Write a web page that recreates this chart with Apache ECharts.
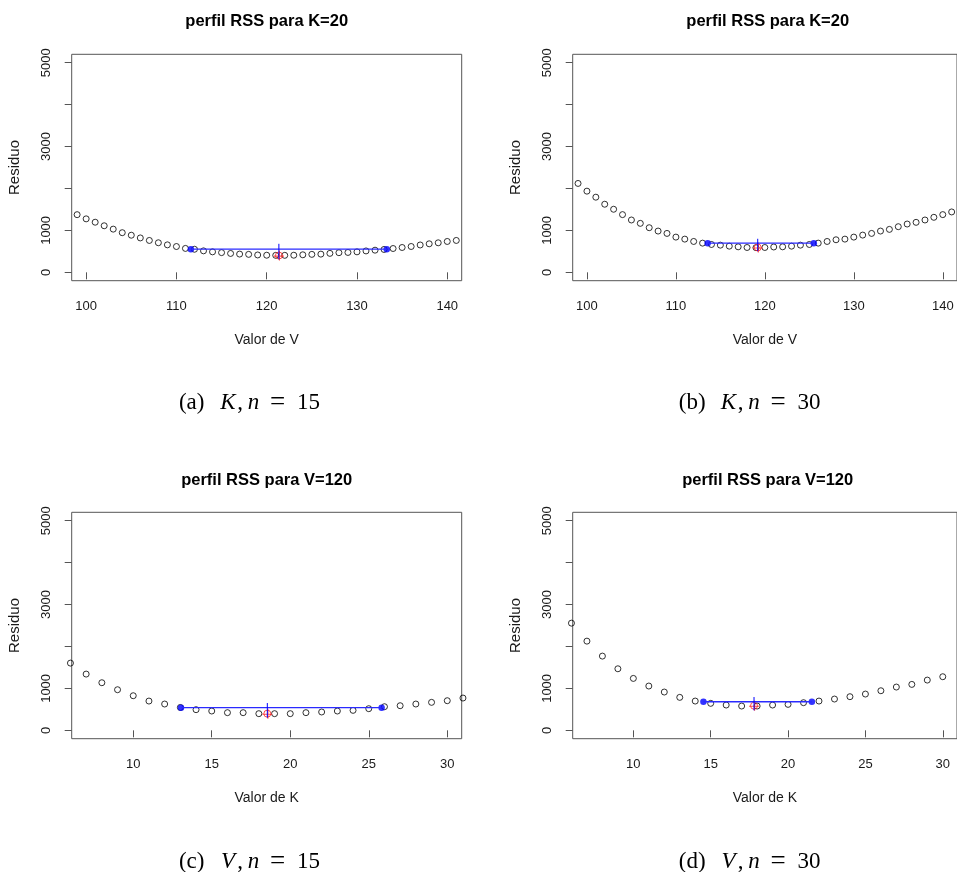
<!DOCTYPE html>
<html>
<head>
<meta charset="utf-8">
<script src="https://cdn.jsdelivr.net/npm/echarts@6/dist/echarts.min.js"></script>
<style>
html,body{margin:0;padding:0;background:#fff;}
#c{width:957px;height:872px;}
</style>
</head>
<body>
<div id="c"></div>
<script>
// ---- Data ----
const ticksV = [100, 110, 120, 130, 140];
const ticksK = [10, 15, 20, 25, 30];
const ticksY = [0, 1000, 2000, 3000, 4000, 5000];
const labelsY = [0, 1000, 3000, 5000];

const titles = ['perfil RSS para K=20', 'perfil RSS para K=20', 'perfil RSS para V=120', 'perfil RSS para V=120'];
const xNames = ['Valor de V', 'Valor de V', 'Valor de K', 'Valor de K'];
const yName = 'Residuo';
const captionLetters = ['(a)', '(b)', '(c)', '(d)'];
const captionVars = ['K', 'K', 'V', 'V'];
const captionN = ['15', '30', '15', '30'];

// (a) K, n = 15
const aX = [99,100,101,102,103,104,105,106,107,108,109,110,111,112,113,114,115,116,117,118,119,120,121,122,123,124,125,126,127,128,129,130,131,132,133,134,135,136,137,138,139,140,141];
const aRSS = [1375,1275,1195,1110,1030,945,885,820,760,705,655,615,570,550,512,488,470,450,435,428,414,408,405,405,408,418,428,434,452,468,474,488,510,528,545,568,592,616,652,680,704,736,760];
const aCI = [111.6, 133.3];
const aCIy = 552;
const aEst = [121.35, 400];
const aMark = [680, 310];

// (b) K, n = 30
const bX = [99,100,101,102,103,104,105,106,107,108,109,110,111,112,113,114,115,116,117,118,119,120,121,122,123,124,125,126,127,128,129,130,131,132,133,134,135,136,137,138,139,140,141];
const bRSS = [2120,1936,1792,1624,1504,1376,1248,1168,1064,984,928,840,792,736,696,664,648,624,608,592,588,592,604,608,624,648,664,696,736,776,792,840,888,928,984,1024,1088,1152,1192,1248,1312,1376,1440];
const bCI = [113.57, 125.5];
const bCIy = 696;
const bEst = [119.2, 592];
const bMark = [800, 504];

// (c) V, n = 15
const cX = [6,7,8,9,10,11,12,13,14,15,16,17,18,19,20,21,22,23,24,25,26,27,28,29,30,31];
const cRSS = [1603,1341,1135,968,825,698,627,545,492,460,421,421,397,397,397,421,437,460,476,516,563,587,627,667,706,770];
const cCI = [13.04, 25.82];
const cCIy = 540;
const cEst = [18.54, 397];
const cMark = [651, 302];

// (d) V, n = 30
const dX = [6,7,8,9,10,11,12,13,14,15,16,17,18,19,20,21,22,23,24,25,26,27,28,29,30];
const dRSS = [2556,2127,1770,1468,1238,1056,913,786,698,643,603,579,579,603,619,659,698,746,802,865,944,1032,1095,1198,1278];
const dCI = [14.53, 21.54];
const dCIy = 683;
const dEst = [17.8, 587];
const dMark = [794, 476];

// ---- Layout ----
const colLeft = [71.7, 572.7];
const rowTop = [54.3, 512.3];
const plotW = 390, plotH = 226.4;
const xRangeV = [98.4, 141.6];
const xRangeK = [6.08, 30.92];
const yRange = [-200, 5200];

const panels = [
  {x: aX, y: aRSS, ci: aCI, ciy: aCIy, est: aEst, mark: aMark, ticks: ticksV, range: xRangeV},
  {x: bX, y: bRSS, ci: bCI, ciy: bCIy, est: bEst, mark: bMark, ticks: ticksV, range: xRangeV},
  {x: cX, y: cRSS, ci: cCI, ciy: cCIy, est: cEst, mark: cMark, ticks: ticksK, range: xRangeK},
  {x: dX, y: dRSS, ci: dCI, ciy: dCIy, est: dEst, mark: dMark, ticks: ticksK, range: xRangeK}
];

const SANS = '"Liberation Sans", Arial, sans-serif';
const SERIF = '"Liberation Serif", "DejaVu Serif", serif';
const TXT = '#1a1a1a';
const AX = '#555';

const grids = [], xAxes = [], yAxes = [], series = [], graphics = [];
const captionBase = [191.7, 692.2];      // centre of "(x)" token
const captionOffsets = [0, 36.3, 48.3, 61.8, 85.8, 116.8];
const captionY = [403.3, 862.3];
const titleY = [21.7, 480];

panels.forEach((p, i) => {
  const col = i % 2, row = Math.floor(i / 2);
  grids.push({
    left: colLeft[col], top: rowTop[row], width: plotW, height: plotH,
    show: true, borderColor: AX, borderWidth: 1, backgroundColor: 'transparent', containLabel: false
  });
  xAxes.push({
    type: 'value', gridIndex: i, min: p.range[0], max: p.range[1],
    splitLine: {show: false},
    axisLine: {show: false},
    axisTick: {show: true, length: 7, customValues: p.ticks, lineStyle: {color: AX, width: 1}},
    axisLabel: {show: true, customValues: p.ticks, margin: 19, fontSize: 13, color: TXT, fontFamily: SANS,
      formatter: v => String(v)},
    name: xNames[i], nameLocation: 'middle', nameGap: 52,
    nameTextStyle: {fontSize: 14, color: TXT, fontFamily: SANS}
  });
  yAxes.push({
    type: 'value', gridIndex: i, min: yRange[0], max: yRange[1],
    splitLine: {show: false},
    axisLine: {show: false},
    axisTick: {show: true, length: 7, customValues: ticksY, lineStyle: {color: AX, width: 1}},
    axisLabel: {show: true, customValues: labelsY, rotate: 90, margin: 19, fontSize: 13, color: TXT, fontFamily: SANS,
      formatter: v => String(v)},
    name: yName, nameLocation: 'middle', nameGap: 49,
    nameTextStyle: {fontSize: 15, color: TXT, fontFamily: SANS}
  });
  // profile points (open circles)
  series.push({
    type: 'scatter', xAxisIndex: i, yAxisIndex: i, clip: false, silent: true,
    symbol: 'circle', symbolSize: 6,
    itemStyle: {color: 'rgba(0,0,0,0)', borderColor: '#000', borderWidth: 1},
    data: p.x.map((v, j) => [v, p.y[j]])
  });
  // interval line
  series.push({
    type: 'line', xAxisIndex: i, yAxisIndex: i, symbol: 'none', silent: true,
    lineStyle: {color: '#2a2aff', width: 1.4},
    data: [[p.ci[0], p.ciy], [p.ci[1], p.ciy]]
  });
  // interval endpoints
  series.push({
    type: 'scatter', xAxisIndex: i, yAxisIndex: i, silent: true,
    symbol: 'circle', symbolSize: 6.5,
    itemStyle: {color: '#0000ff'},
    data: [[p.ci[0], p.ciy], [p.ci[1], p.ciy]]
  });
  // vertical mark at estimate
  series.push({
    type: 'line', xAxisIndex: i, yAxisIndex: i, symbol: 'none', silent: true,
    lineStyle: {color: '#0000ff', width: 1},
    data: [[p.est[0], p.mark[0]], [p.est[0], p.mark[1]]]
  });
  // estimate: red circle with plus
  series.push({
    type: 'scatter', xAxisIndex: i, yAxisIndex: i, silent: true,
    symbol: 'circle', symbolSize: 7,
    itemStyle: {color: 'rgba(0,0,0,0)', borderColor: '#ff2020', borderWidth: 1},
    data: [[p.est[0], p.est[1]]]
  });
  series.push({
    type: 'scatter', xAxisIndex: i, yAxisIndex: i, silent: true,
    symbol: 'path://M0,4.5L9,4.5L9,5.5L0,5.5Z M4.5,0L5.5,0L5.5,9L4.5,9Z', symbolSize: 10,
    itemStyle: {color: '#ff2020'},
    data: [[p.est[0], p.est[1]]]
  });
  // title
  graphics.push({
    type: 'text', x: colLeft[col] + plotW / 2, y: titleY[row], silent: true,
    style: {text: titles[i], font: 'bold 16.5px ' + SANS, fill: '#000', align: 'center', verticalAlign: 'middle'}
  });
  // caption tokens: "(x)"  V , n = NN
  const tokens = [
    {t: captionLetters[i], it: false},
    {t: captionVars[i], it: true},
    {t: ',', it: false},
    {t: 'n', it: true},
    {t: '=', it: false},
    {t: captionN[i], it: false}
  ];
  tokens.forEach((tk, k) => {
    graphics.push({
      type: 'text', x: captionBase[col] + captionOffsets[k], y: captionY[row], silent: true,
      style: {
        text: tk.t, fill: '#000', align: 'center', verticalAlign: 'middle',
        font: (tk.it ? 'italic ' : '') + (tk.t === '=' ? '27px ' : '23px ') + SERIF
      }
    });
  });
});

const chart = echarts.init(document.getElementById('c'), null, {renderer: 'canvas'});
chart.setOption({
  animation: false,
  backgroundColor: '#fff',
  grid: grids,
  xAxis: xAxes,
  yAxis: yAxes,
  series: series,
  graphic: graphics
});
</script>
</body>
</html>
